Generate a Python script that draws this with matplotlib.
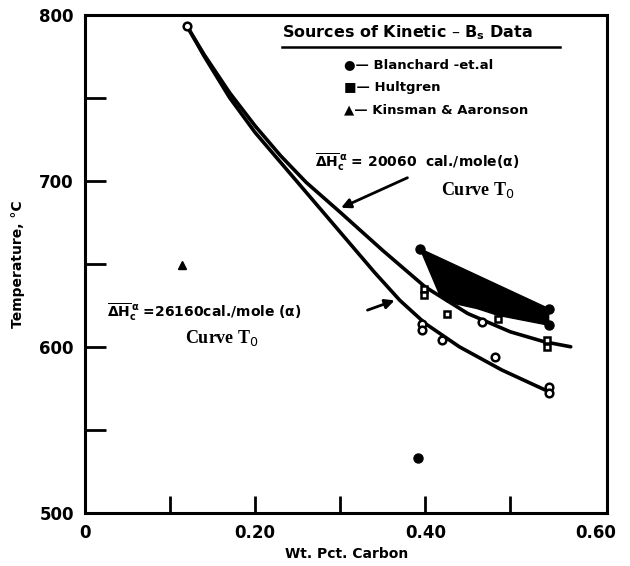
"""Martensite start temperature vs. carbon content, with T0 curves."""

import matplotlib

matplotlib.use("Agg")
import matplotlib.pyplot as plt  # noqa: E402

plt.rcParams["font.family"] = ["DejaVu Sans"]
plt.rcParams["mathtext.fontset"] = "dejavusans"
plt.rcParams["mathtext.default"] = "bf"

# T0 curves (wt. pct. C, deg C)
upper_x = [0.12, 0.14, 0.17, 0.20, 0.23, 0.26, 0.30, 0.35, 0.40, 0.45, 0.50, 0.54, 0.571]
upper_T = [793, 776, 753, 733, 715, 699, 681, 658, 636, 620, 609, 603, 600]
lower_x = [0.12, 0.14, 0.17, 0.20, 0.23, 0.26, 0.30, 0.34, 0.37, 0.40, 0.44, 0.49, 0.545]
lower_T = [793, 775, 750, 729, 711, 693, 669, 645, 628, 614, 600, 586, 573]

# open markers along the curves
sq_x = [0.398, 0.398, 0.426, 0.485, 0.543, 0.543]
sq_T = [635, 631, 620, 617, 604, 600]
ring_x = [0.12, 0.396, 0.396, 0.42, 0.467, 0.482, 0.545, 0.545]
ring_T = [793, 614, 610, 604, 615, 594, 576, 572]

# measured data
blanchard_x = [0.394, 0.545, 0.545, 0.392]
blanchard_T = [659, 623, 613, 533]
kinsman_x = [0.114]
kinsman_T = [649]

# shaded scatter band
band_x = [0.394, 0.545, 0.545, 0.485, 0.461, 0.426, 0.418]
band_T = [659, 623, 613, 619, 623, 627, 630]

x_ticks = [0, 0.1, 0.2, 0.3, 0.4, 0.5, 0.6]
x_labels = ["0", "", "0.20", "", "0.40", "", "0.60"]
y_ticks = [500, 550, 600, 650, 700, 750, 800]
y_labels = ["500", "", "600", "", "700", "", "800"]

fig = plt.figure(figsize=(6.3, 5.66), dpi=100)
ax = fig.add_axes([0.135, 0.094, 0.829, 0.880])

ax.fill(band_x, band_T, color="black", lw=1)
ax.plot(upper_x, upper_T, color="black", lw=2.6, solid_capstyle="round")
ax.plot(lower_x, lower_T, color="black", lw=2.6, solid_capstyle="round")
ax.plot(sq_x, sq_T, ls="none", marker="s", ms=5, mfc="white", mec="black", mew=1.8)
ax.plot(ring_x, ring_T, ls="none", marker="o", ms=5.5, mfc="white", mec="black", mew=1.8)
ax.plot(blanchard_x, blanchard_T, ls="none", marker="o", ms=6.5, color="black")
ax.plot(kinsman_x, kinsman_T, ls="none", marker="^", ms=6, color="black")

ax.set_xlim(0, 0.614)
ax.set_ylim(500, 800)
ax.set_xticks(x_ticks)
ax.set_xticklabels(x_labels)
ax.set_yticks(y_ticks)
ax.set_yticklabels(y_labels)
ax.tick_params(axis="x", direction="in", length=12, width=2, pad=8, labelsize=12)
ax.tick_params(axis="y", direction="in", length=15, width=2, pad=8, labelsize=12)
ax.xaxis.get_major_ticks()[-1].tick1line.set_visible(False)
for lab in ax.get_xticklabels() + ax.get_yticklabels():
    lab.set_fontweight("bold")
for s in ax.spines.values():
    s.set_linewidth(2.2)

ax.set_xlabel("Wt. Pct. Carbon", fontsize=10, fontweight="bold", labelpad=4)
ax.set_ylabel("Temperature, °C", fontsize=10, fontweight="bold", labelpad=10)

# legend drawn as text, like the original
ax.text(0.377, 0.964, r"Sources of Kinetic – B$_\mathbf{s}$ Data", transform=ax.transAxes,
        fontsize=11.5, fontweight="bold", va="center")
ax.plot([0.377, 0.91], [0.936, 0.936], color="black", lw=1.8,
        transform=ax.transAxes, clip_on=False)
entries = ["●— Blanchard -et.al", "■— Hultgren", "▲— Kinsman & Aaronson"]
for i, t in enumerate(entries):
    ax.text(0.495, 0.900 - 0.046 * i, t, transform=ax.transAxes,
            fontsize=9.5, fontweight="bold", va="center")

# curve labels
ax.text(0.441, 0.703, r"$\overline{\Delta H}{}_c^{\,\alpha}$ = 20060  cal./mole(α)",
        transform=ax.transAxes, fontsize=10, fontweight="bold", va="center")
ax.text(0.753, 0.649, "Curve T$_\\mathrm{0}$", transform=ax.transAxes, ha="center",
        va="center", fontsize=13, fontweight="bold", family="Liberation Serif")
ax.annotate("", xy=(0.298, 683), xytext=(0.382, 702.5),
            arrowprops=dict(arrowstyle="-|>", lw=2, color="black", mutation_scale=14))

ax.text(0.042, 0.402, r"$\overline{\Delta H}{}_c^{\,\alpha}$ =26160cal./mole (α)",
        transform=ax.transAxes, fontsize=10, fontweight="bold", va="center")
ax.text(0.262, 0.351, "Curve T$_\\mathrm{0}$", transform=ax.transAxes, ha="center",
        va="center", fontsize=13, fontweight="bold", family="Liberation Serif")
ax.annotate("", xy=(0.367, 628.5), xytext=(0.329, 621.5),
            arrowprops=dict(arrowstyle="-|>", lw=2, color="black", mutation_scale=14))

fig.savefig("out.png", dpi=100)
